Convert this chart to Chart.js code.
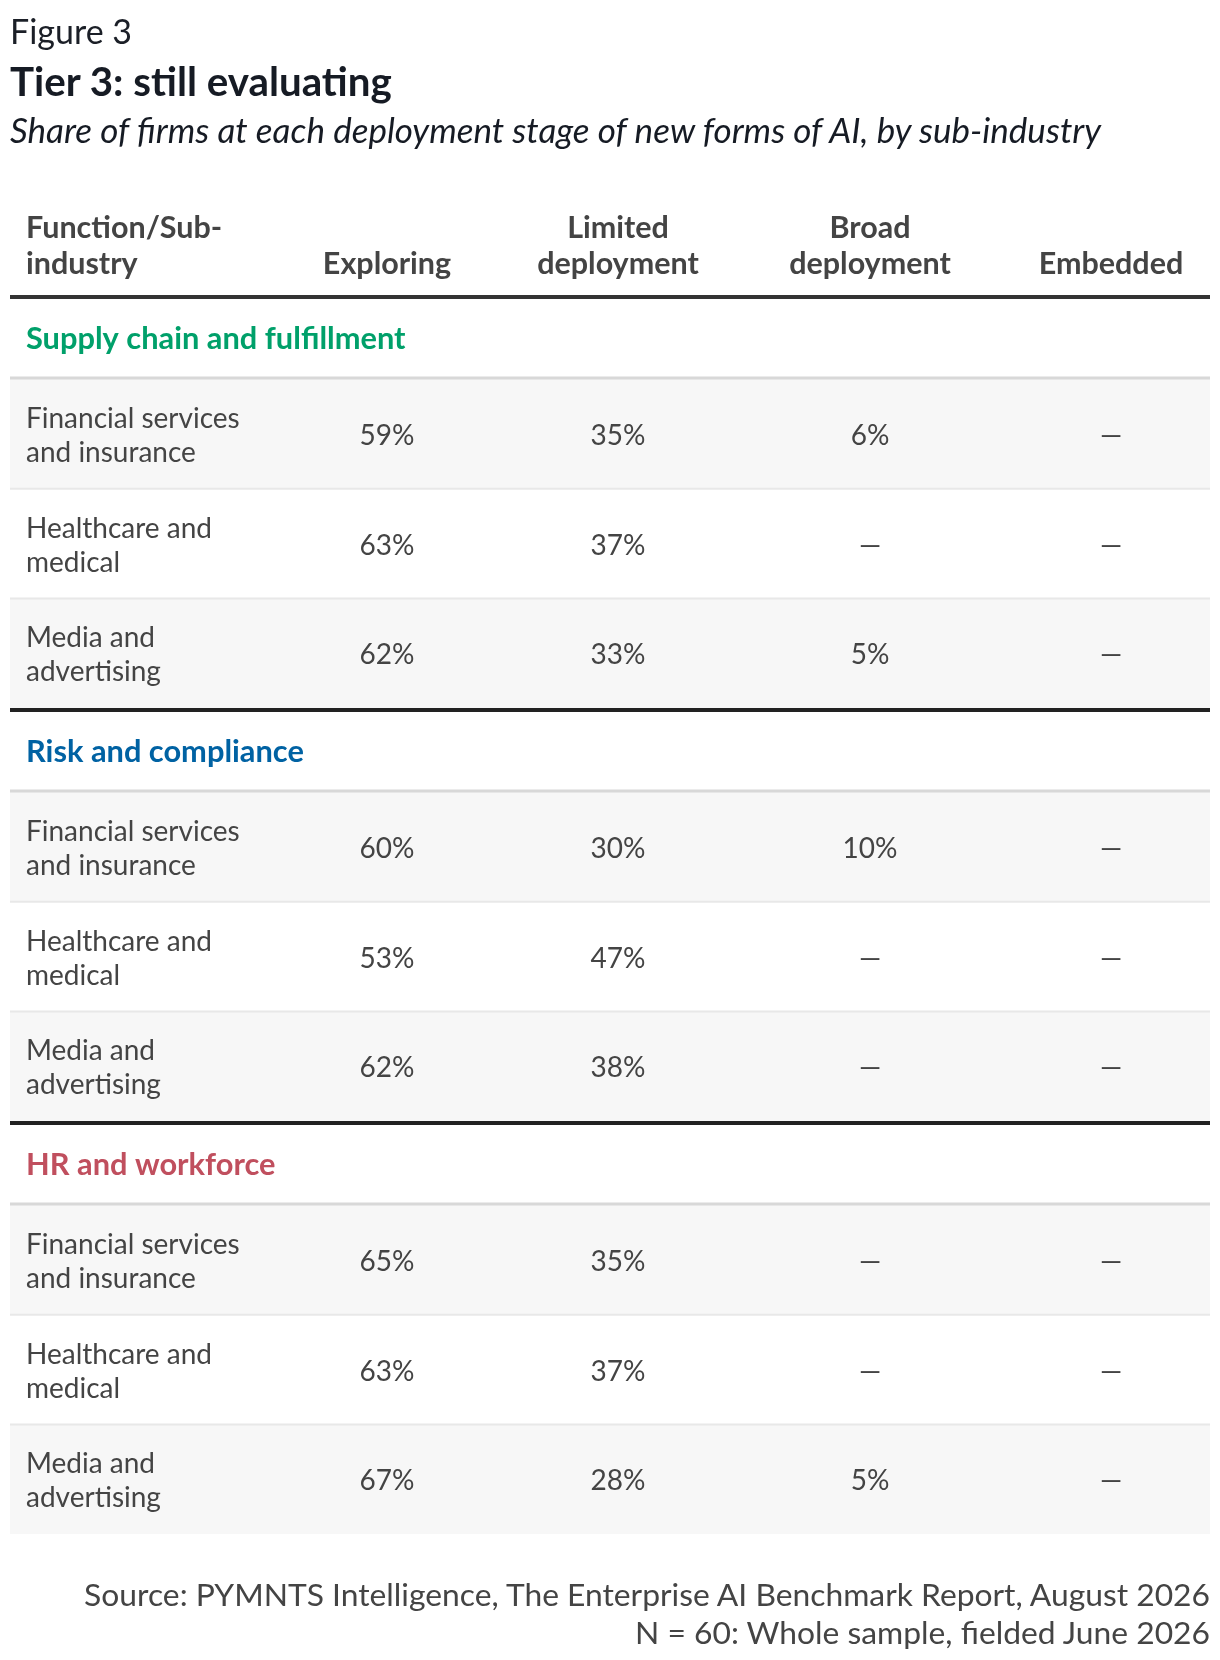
<!DOCTYPE html>
<html>
<head>
<meta charset="utf-8">
<title>Tier 3: still evaluating</title>
<script src="https://cdn.jsdelivr.net/npm/chart.js@4.4.1/dist/chart.umd.min.js"></script>
<style>
    html, body { margin: 0; padding: 0; background: #fff; }
    body { width: 1220px; height: 1660px; position: relative; overflow: hidden; font-family: Lato, "Noto Sans", sans-serif; }
    #table { position: absolute; left: 0; top: 0; }
    .txt { position: absolute; white-space: nowrap; line-height: 1.2; margin: 0; }
    #fig { left: 10px; top: 11px; font-size: 34px; color: #1b1f27; }
    #title { left: 10px; top: 57px; font-size: 40.3px; font-weight: 700; color: #161b24; }
    #subtitle { left: 10px; top: 108px; font-size: 35px; font-style: italic; color: #161b24; }
    .src { right: 10px; font-size: 31.8px; color: #444; text-align: right; }
    #src1 { top: 1575px; }
    #src2 { top: 1613px; }
</style>
</head>
<body>
<canvas id="table" width="1220" height="1660"></canvas>
<div class="txt" id="fig">Figure 3</div>
<div class="txt" id="title">Tier 3: still evaluating</div>
<div class="txt" id="subtitle">Share of firms at each deployment stage of new forms of AI, by sub-industry</div>
<div class="txt src" id="src1">Source: PYMNTS Intelligence, The Enterprise AI Benchmark Report, August 2026</div>
<div class="txt src" id="src2">N = 60: Whole sample, fielded June 2026</div>
<script>
// 表头与分组
const firstHeader = ['Function/Sub-', 'industry'];
const stages = [['Exploring'], ['Limited', 'deployment'], ['Broad', 'deployment'], ['Embedded']];
const sections = ['Supply chain and fulfillment', 'Risk and compliance', 'HR and workforce'];
const subIndustries = [['Financial services', 'and insurance'], ['Healthcare and', 'medical'], ['Media and', 'advertising']];

// 各阶段占比（每组三行，共九行），null 表示 “—”
const exploring = [59, 63, 62, 60, 53, 62, 65, 63, 67];
const limited = [35, 37, 33, 30, 47, 38, 35, 37, 28];
const broad = [6, null, 5, 10, null, null, null, null, 5];
const embedded = [null, null, null, null, null, null, null, null, null];

const sectionColors = ['#00a06a', '#0062a3', '#c04f5e'];

// 版面尺寸
const layout = {
    left: 10,
    right: 1210,
    labelX: 26,
    colX: [387, 618, 870, 1111],
    headBase: [238, 274],
    headRule: 297,
    sectionHead: 81,
    rowH: 109.7
};

function sectionTop(s) {
    return layout.headRule + s * 413;
}
function rowTop(s, i) {
    return sectionTop(s) + layout.sectionHead + 1 + i * layout.rowH;
}

// 单元格作为散点数据，由坐标轴换算位置
const columns = [exploring, limited, broad, embedded];
const cells = [];
sections.forEach((sec, s) => {
    subIndustries.forEach((sub, i) => {
        const r = s * 3 + i;
        columns.forEach((col, c) => {
            cells.push({ x: layout.colX[c], y: rowTop(s, i) + layout.rowH / 2, v: col[r] });
        });
    });
});

const font = (size, weight, style) => `${style || 'normal'} ${weight || 400} ${size}px Lato, "Noto Sans", sans-serif`;

const tablePlugin = {
    id: 'tablePlugin',
    beforeDatasetsDraw(chart) {
        const ctx = chart.ctx;
        const px = v => chart.scales.x.getPixelForValue(v);
        const py = v => chart.scales.y.getPixelForValue(v);
        const x0 = px(layout.left), x1 = px(layout.right);

        function hline(y, w, color) {
            ctx.save();
            ctx.strokeStyle = color;
            ctx.lineWidth = w;
            ctx.beginPath();
            ctx.moveTo(x0, py(y));
            ctx.lineTo(x1, py(y));
            ctx.stroke();
            ctx.restore();
        }

        ctx.save();
        ctx.textBaseline = 'alphabetic';

        // 表头
        ctx.fillStyle = '#444';
        ctx.font = font(30.5, 700);
        ctx.textAlign = 'left';
        firstHeader.forEach((t, k) => ctx.fillText(t, px(layout.labelX), py(layout.headBase[k])));
        ctx.textAlign = 'center';
        stages.forEach((lines, c) => {
            const off = layout.headBase.length - lines.length;
            lines.forEach((t, k) => ctx.fillText(t, px(layout.colX[c]), py(layout.headBase[k + off])));
        });

        sections.forEach((sec, s) => {
            const top = sectionTop(s);
            // 行底色
            subIndustries.forEach((sub, i) => {
                if (i % 2 === 0) {
                    ctx.fillStyle = '#f7f7f7';
                    ctx.fillRect(x0, py(rowTop(s, i)), x1 - x0, py(rowTop(s, i) + layout.rowH) - py(rowTop(s, i)));
                }
            });
            // 分组标题
            ctx.fillStyle = sectionColors[s];
            ctx.font = font(30.8, 700);
            ctx.textAlign = 'left';
            ctx.fillText(sec, px(layout.labelX), py(top + 52));
            // 行标签
            ctx.fillStyle = '#444';
            ctx.font = font(28, 400);
            subIndustries.forEach((sub, i) => {
                const mid = rowTop(s, i) + layout.rowH / 2;
                ctx.fillText(sub[0], px(layout.labelX), py(mid - 6));
                ctx.fillText(sub[1], px(layout.labelX), py(mid + 28));
            });
            // 分隔线
            hline(top + layout.sectionHead, 3, '#d8d8d8');
            hline(rowTop(s, 1), 2, '#e8e8e8');
            hline(rowTop(s, 2), 2, '#e8e8e8');
            if (s > 0) hline(top, 4, '#222');
        });
        hline(layout.headRule, 4, '#333');
        ctx.restore();
    },
    afterDatasetsDraw(chart) {
        const ctx = chart.ctx;
        const meta = chart.getDatasetMeta(0);
        ctx.save();
        ctx.fillStyle = '#444';
        ctx.font = font(28, 400);
        ctx.textAlign = 'center';
        ctx.textBaseline = 'alphabetic';
        meta.data.forEach((pt, k) => {
            const v = chart.data.datasets[0].data[k].v;
            ctx.fillText(v === null ? '—' : v + '%', pt.x, pt.y + 11);
        });
        ctx.restore();
    }
};

new Chart(document.getElementById('table'), {
    type: 'scatter',
    data: {
        datasets: [{
            data: cells,
            pointRadius: 0,
            pointHoverRadius: 0
        }]
    },
    options: {
        responsive: false,
        animation: false,
        events: [],
        layout: { padding: 0 },
        plugins: {
            legend: { display: false },
            tooltip: { enabled: false }
        },
        scales: {
            x: { type: 'linear', min: 0, max: 1220, display: false },
            y: { type: 'linear', min: 0, max: 1660, reverse: true, display: false }
        }
    },
    plugins: [tablePlugin]
});
</script>
</body>
</html>
